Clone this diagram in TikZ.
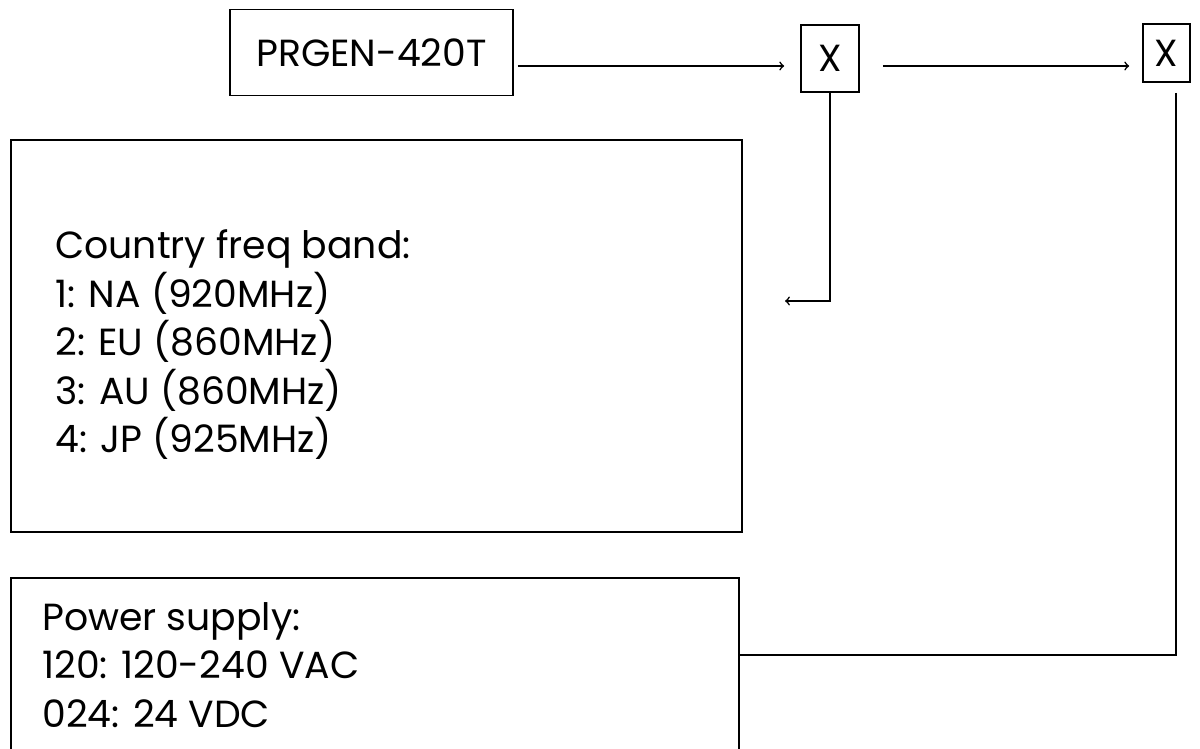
\documentclass[tikz,border=0pt]{standalone}
\usepackage{fontspec}
\setmainfont{Poppins}
\usetikzlibrary{positioning}

\begin{document}
\begin{tikzpicture}[x=0.02cm, y=-0.02cm, font=\fontsize{21.5}{27.6}\selectfont,
    box/.style={draw, line width=0.9pt, inner sep=0pt},
    link/.style={line width=0.9pt},
    listtext/.style={align=left, inner sep=0pt, anchor=west}]

\clip (0,0) rectangle (1200,749);

% 1. Top row: part number and the two option slots
\node[box, minimum width=5.66cm, minimum height=1.72cm] (prgen) at (371.5,52.5) {PRGEN-420T};
\node[box, minimum width=1.16cm, minimum height=1.34cm] (x1) at (830,58.5) {X};
\node[box, minimum width=0.94cm, minimum height=1.16cm] (x2) at (1166.5,53) {X};

% 2. Frequency band box
\node[box, minimum width=14.62cm, minimum height=7.84cm] (band) at (376.5,336) {};
\node[listtext] (bandtxt) at (55,345) {Country freq band:\\1: NA (920MHz)\\2: EU (860MHz)\\3: AU (860MHz)\\4: JP (925MHz)};

% 3. Power supply box (runs off the bottom)
\node[box, minimum width=14.56cm, minimum height=4.6cm] (power) at (375,693) {};
\node[listtext] (powertxt) at (42,665) {Power supply:\\120: 120-240 VAC\\024: 24 VDC};

% Connectors
\coordinate (a1) at ([yshift=-0.27cm]prgen.east);
\coordinate (a2) at (x1.east |- a1);
\coordinate (bandin) at (785,301);
\coordinate (pwrin) at (power.east |- 0,655);
\draw[link, ->, shorten <=0.08cm, shorten >=0.32cm] (a1) -- (a1 -| x1.west);
\draw[link, ->, shorten <=0.46cm, shorten >=0.26cm] (a2) -- (a2 -| x2.west);
\draw[link, ->] (x1.south) |- (bandin);
\draw[link, shorten <=0.2cm] ([xshift=0.19cm]x2.south) |- (pwrin);

\end{tikzpicture}
\end{document}
